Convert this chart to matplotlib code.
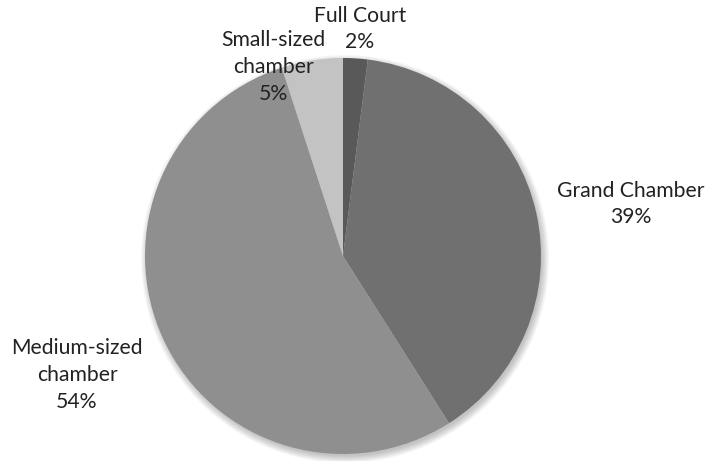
import matplotlib.pyplot as plt
from matplotlib.patches import Circle

# data
categories = ["Full Court", "Grand Chamber", "Medium-sized\nchamber", "Small-sized\nchamber"]
shares = [2, 39, 54, 5]
colors = ["#595959", "#707070", "#8f8f8f", "#c3c3c3"]

# label anchor positions in pixels (x, y from top)
label_pos = [(360, 29), (631, 204), (77, 375), (273, 67)]

W, H = 712, 461
fig = plt.figure(figsize=(W / 100, H / 100), dpi=100)
ax = fig.add_axes([0, 0, 1, 1])
ax.set_aspect("equal")

cx, cy, r = 343, H - 256, 198

# soft shadow
for i in range(8):
    ax.add_patch(Circle((cx + 2, cy - 3), r + 6 - i, color="black", alpha=0.03, lw=0, zorder=0))

ax.pie(shares, colors=colors, startangle=90, counterclock=False,
       center=(cx, cy), radius=r, frame=True,
       wedgeprops=dict(linewidth=0))
ax.set_xlim(0, W)
ax.set_ylim(0, H)
ax.axis("off")

for name, val, (x, y) in zip(categories, shares, label_pos):
    ax.text(x, H - y, f"{name}\n{val}%", ha="center", va="center",
            fontsize=15.2, family="Lato", color="#222222", linespacing=1.42)

fig.savefig("out.png", dpi=100)
